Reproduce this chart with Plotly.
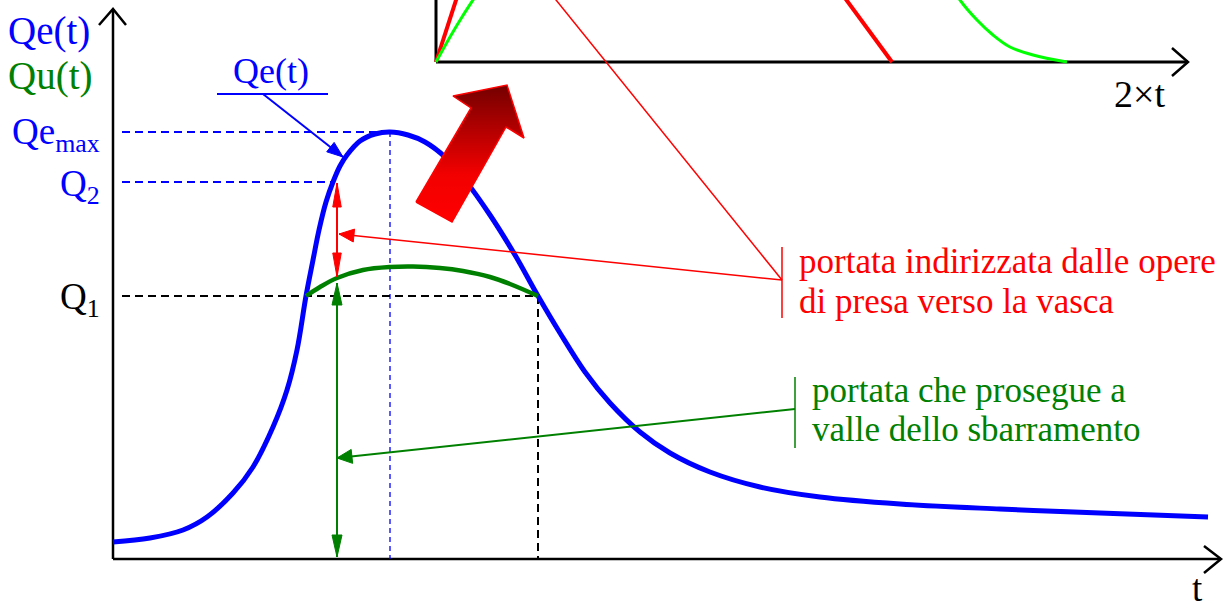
import numpy as np
import plotly.graph_objects as go

# Inflow hydrograph Qe(t)  (t and Q in the drawing's arbitrary units)
t_qe = [0.0, 3.7, 7.0, 9.4, 12.0, 14.0, 16.0, 17.4, 18.4, 19.3, 20.0, 20.6, 21.3,
        22.0, 22.7, 23.4, 24.7, 26.2, 27.7, 29.5, 31.2, 33.2, 35.2, 37.7, 40.2,
        42.5, 44.7, 47.2, 49.7, 52.7, 55.7, 59.7, 64.7, 70.7, 78.7, 88.7, 98.7, 109.5]
q_qe = [1.7, 2.1, 2.9, 4.2, 6.6, 9.2, 13.2, 16.9, 20.9, 26.3, 29.9, 32.9, 35.7,
        37.7, 39.3, 40.4, 41.8, 42.5, 42.7, 42.4, 41.7, 40.2, 37.9, 34.4, 30.4,
        26.3, 22.6, 18.7, 15.6, 12.7, 10.6, 8.7, 7.2, 6.2, 5.5, 5.0, 4.6, 4.2]

# Outflow Qu(t) continuing downstream while the intake is active
t_qu = [19.3, 20.7, 22.4, 25.0, 27.7, 30.0, 32.7, 35.0, 37.7, 39.7, 42.5]
q_qu = [26.3, 27.2, 28.1, 28.9, 29.2, 29.25, 29.1, 28.8, 28.2, 27.5, 26.3]

# Characteristic levels and instants
Q1, Q2, QE_MAX = 26.3, 37.7, 42.7
T_Q1_RISE, T_Q1_FALL, T_Q2, T_PEAK = 19.3, 42.5, 22.0, 27.7
T_SPLIT, Q_SPLIT = 22.4, 28.1

# Small inset: storage-basin filling / emptying curves
inset_red_a_t, inset_red_a_q = [32.3, 34.5], [49.7, 56.5]
inset_red_b_t, inset_red_b_q = [72.9, 77.9], [56.5, 49.7]
inset_green_a_t = [32.3, 33.7, 34.9, 36.0, 36.4]
inset_green_a_q = [49.7, 52.2, 54.2, 55.9, 56.5]
inset_green_b_t = [84.4, 84.7, 86.4, 88.0, 89.7, 92.0, 95.4]
inset_green_b_q = [56.4, 55.9, 53.9, 52.4, 51.2, 50.4, 49.7]
INSET_T0, INSET_Q0, INSET_T1 = 32.3, 49.7, 107.5

BLUE, GREEN, RED, LGREEN = "#0000ff", "#008000", "#ff0000", "#00ff00"
SERIF = "Liberation Serif, Tinos, 'Times New Roman', 'DejaVu Serif', serif"

fig = go.Figure()


def line(x, y, color, width, dash="solid", shape="linear"):
    fig.add_trace(go.Scatter(x=x, y=y, mode="lines", hoverinfo="skip",
                             line=dict(color=color, width=width, dash=dash, shape=shape)))


def head(tip, tail, color, length=2.0, width=1.0):
    tip, tail = np.array(tip, float), np.array(tail, float)
    d = (tip - tail) / np.linalg.norm(tip - tail)
    n = np.array([-d[1], d[0]])
    base = tip - d * length
    pts = [tip, base + n * width / 2, base - n * width / 2, tip]
    fig.add_trace(go.Scatter(x=[p[0] for p in pts], y=[p[1] for p in pts],
                             mode="lines", fill="toself", fillcolor=color,
                             line=dict(color=color, width=1), hoverinfo="skip"))


def arrow(tail, tip, color, width, both=False, hl=2.0, hw=1.0):
    line([tail[0], tip[0]], [tail[1], tip[1]], color, width)
    head(tip, tail, color, hl, hw)
    if both:
        head(tail, tip, color, hl, hw)


# main axes with open chevrons
line([0, 0], [0, 55.0], "black", 2.5)
line([-1.4, 0, 1.3], [53.4, 55.0, 53.4], "black", 2.5)
line([0, 110.8], [0, 0], "black", 2.5)
line([109.1, 110.8, 109.1], [1.3, 0, -1.4], "black", 2.5)

# inset axes
line([INSET_T0, INSET_T0], [INSET_Q0, 56.5], "black", 3)
line([INSET_T0, INSET_T1], [INSET_Q0, INSET_Q0], "black", 3)
line([INSET_T1 - 1.6, INSET_T1, INSET_T1 - 1.6], [INSET_Q0 + 1.4, INSET_Q0, INSET_Q0 - 1.4], "black", 2.5)
line(inset_red_a_t, inset_red_a_q, RED, 4)
line(inset_red_b_t, inset_red_b_q, RED, 4)
line(inset_green_a_t, inset_green_a_q, LGREEN, 3, shape="spline")
line(inset_green_b_t, inset_green_b_q, LGREEN, 3, shape="spline")

# reference levels
line([0.9, T_PEAK], [QE_MAX, QE_MAX], BLUE, 1.8, dash="8px,5px")
line([0.9, T_Q2], [Q2, Q2], BLUE, 1.8, dash="8px,5px")
line([T_PEAK, T_PEAK], [QE_MAX, 0], BLUE, 1.3, dash="5px,4px")
line([0.9, T_Q1_FALL], [Q1, Q1], "black", 2, dash="8px,5px")
line([T_Q1_FALL, T_Q1_FALL], [Q1, 0], "black", 2, dash="8px,5px")

# hydrographs
line(t_qe, q_qe, BLUE, 5, shape="spline")
line(t_qu, q_qu, GREEN, 4.5, shape="spline")

# big arrow pointing to the inset
arrow_t = [30.3, 33.9, 39.3, 41.1, 39.4, 34.0, 35.8, 30.3]
arrow_q = [35.7, 33.7, 43.2, 42.1, 47.4, 46.3, 45.1, 35.7]
fig.add_trace(go.Scatter(
    x=arrow_t, y=arrow_q, mode="lines", fill="toself", hoverinfo="skip",
    fillgradient=dict(type="vertical", start=min(arrow_q), stop=max(arrow_q),
                      colorscale=[[0, "#ff0000"], [0.35, "#f20000"], [1, "#740000"]]),
    line=dict(color=RED, width=1.5)))

# diverted / continuing flow double arrows
arrow((T_SPLIT, Q2 - 0.1), (T_SPLIT, Q_SPLIT + 0.1), RED, 2, both=True, hl=2.4, hw=0.85)
arrow((T_SPLIT, Q_SPLIT - 0.5), (T_SPLIT, 0.2), GREEN, 2, both=True, hl=2.2, hw=1.0)

# leader lines to the explanatory notes
line([43.9, 66.9], [56.4, 27.9], RED, 1.5)
arrow((66.9, 27.9), (22.6, 32.5), RED, 1.5, hl=1.5, hw=1.3)
line([66.9, 66.9], [31.2, 24.1], RED, 1.5)
arrow((68.2, 15.0), (22.4, 10.1), GREEN, 2, hl=1.5, hw=1.4)
line([68.2, 68.2], [18.2, 11.1], GREEN, 1.5)

# Qe(t) callout
line([10.4, 21.5], [46.5, 46.5], BLUE, 2)
arrow((15.0, 46.5), (23.0, 40.2), BLUE, 2, hl=1.6, hw=1.2)


def text(x, y, s, color, size, xanchor="left"):
    fig.add_annotation(x=x, y=y, text=s, showarrow=False, xanchor=xanchor, yanchor="middle",
                       font=dict(family=SERIF, size=size, color=color))


text(-10.7, 52.8, "Qe(t)", BLUE, 39)
text(-10.7, 48.3, "Qu(t)", GREEN, 39)
text(-1.1, 42.5, "Qe<sub>max</sub>", BLUE, 37, "right")
text(-1.1, 37.3, "Q<sub>2</sub>", BLUE, 37, "right")
text(-1.1, 26.0, "Q<sub>1</sub>", "black", 37, "right")
text(15.8, 48.8, "Qe(t)", BLUE, 36, "center")
text(108.4, -2.9, "t", "black", 37, "center")
text(102.6, 46.5, "2×t", "black", 38, "center")
text(68.4, 29.8, "portata indirizzata dalle opere", RED, 35)
text(68.4, 25.8, "di presa verso la vasca", RED, 35)
text(69.7, 16.9, "portata che prosegue a", GREEN, 35)
text(69.7, 13.0, "valle dello sbarramento", GREEN, 35)

fig.update_layout(
    width=1228, height=609, margin=dict(l=0, r=0, t=0, b=0),
    paper_bgcolor="white", plot_bgcolor="white", showlegend=False,
    xaxis=dict(range=[-11.3, 111.5], visible=False, fixedrange=True),
    yaxis=dict(range=[-5.0, 55.9], visible=False, fixedrange=True),
)

fig.write_html("out.html")
